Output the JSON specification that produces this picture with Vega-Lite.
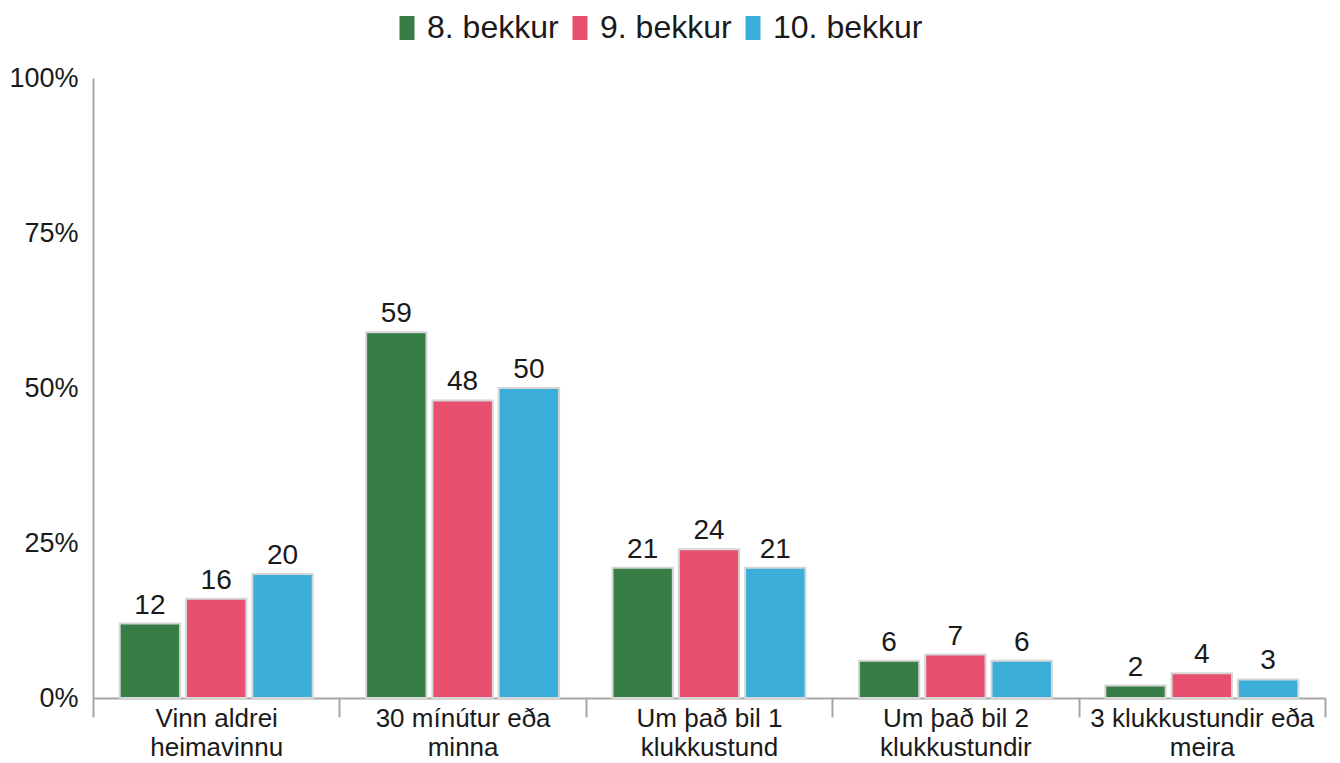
{
  "$schema": "https://vega.github.io/schema/vega-lite/v6.json",
  "width": 1232,
  "height": 620,
  "autosize": {"type": "none"},
  "padding": {"left": 93, "top": 78, "right": 15, "bottom": 65},
  "background": "white",
  "config": {
    "view": {"stroke": null},
    "font": "Liberation Sans",
    "text": {"font": "Liberation Sans"}
  },
  "data": {
    "values": [
      {"cat": "Vinn aldrei\nheimavinnu", "grade": "8. bekkur", "value": 12},
      {"cat": "Vinn aldrei\nheimavinnu", "grade": "9. bekkur", "value": 16},
      {"cat": "Vinn aldrei\nheimavinnu", "grade": "10. bekkur", "value": 20},
      {"cat": "30 mínútur eða\nminna", "grade": "8. bekkur", "value": 59},
      {"cat": "30 mínútur eða\nminna", "grade": "9. bekkur", "value": 48},
      {"cat": "30 mínútur eða\nminna", "grade": "10. bekkur", "value": 50},
      {"cat": "Um það bil 1\nklukkustund", "grade": "8. bekkur", "value": 21},
      {"cat": "Um það bil 1\nklukkustund", "grade": "9. bekkur", "value": 24},
      {"cat": "Um það bil 1\nklukkustund", "grade": "10. bekkur", "value": 21},
      {"cat": "Um það bil 2\nklukkustundir", "grade": "8. bekkur", "value": 6},
      {"cat": "Um það bil 2\nklukkustundir", "grade": "9. bekkur", "value": 7},
      {"cat": "Um það bil 2\nklukkustundir", "grade": "10. bekkur", "value": 6},
      {"cat": "3 klukkustundir eða\nmeira", "grade": "8. bekkur", "value": 2},
      {"cat": "3 klukkustundir eða\nmeira", "grade": "9. bekkur", "value": 4},
      {"cat": "3 klukkustundir eða\nmeira", "grade": "10. bekkur", "value": 3}
    ]
  },
  "encoding": {
    "x": {
      "field": "cat",
      "type": "nominal",
      "sort": null,
      "scale": {"paddingInner": 0, "paddingOuter": 0},
      "axis": {
        "title": null,
        "labelAngle": 0,
        "labelExpr": "split(datum.label, '\\n')",
        "labelFontSize": 26,
        "labelColor": "#1a1a1a",
        "labelFont": "Liberation Sans",
        "labelLineHeight": 29,
        "labelPadding": -12,
        "labelBaseline": "top",
        "labelLimit": 0,
        "tickBand": "extent",
        "tickSize": 19,
        "tickColor": "#a6a6a6",
        "tickWidth": 2,
        "domainColor": "#a6a6a6",
        "domainWidth": 2,
        "grid": false
      }
    },
    "xOffset": {
      "field": "grade",
      "type": "nominal",
      "sort": ["8. bekkur", "9. bekkur", "10. bekkur"],
      "scale": {"paddingInner": 0.09, "paddingOuter": 0.403}
    },
    "y": {
      "field": "value",
      "type": "quantitative",
      "scale": {"domain": [0, 100], "nice": false},
      "axis": {
        "title": null,
        "values": [0, 25, 50, 75, 100],
        "labelExpr": "datum.value + '%'",
        "labelFontSize": 27,
        "labelColor": "#1a1a1a",
        "labelFont": "Liberation Sans",
        "labelPadding": 15,
        "ticks": false,
        "grid": false,
        "domainColor": "#a6a6a6",
        "domainWidth": 2
      }
    }
  },
  "layer": [
    {
      "mark": {"type": "bar", "stroke": "#d6d6d6", "strokeWidth": 2},
      "encoding": {
        "color": {
          "field": "grade",
          "type": "nominal",
          "sort": ["8. bekkur", "9. bekkur", "10. bekkur"],
          "scale": {
            "domain": ["8. bekkur", "9. bekkur", "10. bekkur"],
            "range": ["#377d45", "#e8506f", "#3aadd9"]
          },
          "legend": {
            "title": null,
            "orient": "none",
            "direction": "horizontal",
            "legendX": 298,
            "legendY": -66,
            "symbolType": "M-0.625,-1H0.625V1H-0.625Z",
            "symbolSize": 576,
            "symbolStrokeWidth": 0,
            "labelFontSize": 32,
            "labelFont": "Liberation Sans",
            "labelColor": "#1a1a1a",
            "labelOffset": 4,
            "labelLimit": 0,
            "columnPadding": 5
          }
        }
      }
    },
    {
      "mark": {"type": "text", "baseline": "alphabetic", "dy": -10, "fontSize": 28, "color": "#1a1a1a", "font": "Liberation Sans"},
      "encoding": {
        "text": {"field": "value", "type": "quantitative"}
      }
    }
  ]
}
